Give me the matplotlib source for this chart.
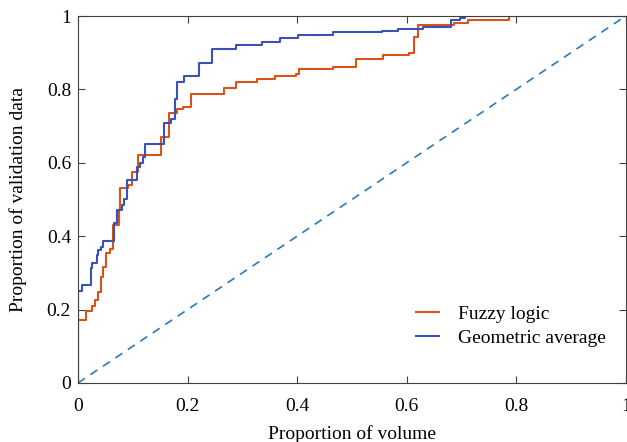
import matplotlib.pyplot as plt
import numpy as np

# step curves: (proportion of volume, proportion of validation data)
geo_x = [0, 0.0067, 0.023, 0.026, 0.034, 0.037, 0.0415, 0.0457, 0.066, 0.072, 0.080, 0.084,
         0.090, 0.107, 0.113, 0.118, 0.1225, 0.157, 0.169, 0.177, 0.1815, 0.194, 0.221,
         0.2455, 0.289, 0.336, 0.369, 0.401, 0.465, 0.5545, 0.584, 0.629, 0.681, 0.698,
         0.706, 1.0]
geo_y = [0.251, 0.267, 0.312, 0.328, 0.349, 0.362, 0.371, 0.388, 0.437, 0.471, 0.485, 0.500,
         0.553, 0.589, 0.599, 0.617, 0.651, 0.708, 0.718, 0.773, 0.821, 0.837, 0.873,
         0.909, 0.921, 0.930, 0.939, 0.948, 0.956, 0.960, 0.965, 0.971, 0.989, 0.995,
         1.0, 1.0]

fuzzy_x = [0, 0.015, 0.026, 0.031, 0.037, 0.0426, 0.046, 0.0506, 0.058, 0.063, 0.075, 0.077,
           0.092, 0.099, 0.110, 0.151, 0.166, 0.181, 0.191, 0.206, 0.267, 0.288, 0.326,
           0.360, 0.398, 0.404, 0.465, 0.508, 0.5576, 0.604, 0.614, 0.620, 0.687, 0.712,
           0.787]
fuzzy_y = [0.172, 0.197, 0.210, 0.226, 0.249, 0.290, 0.317, 0.353, 0.364, 0.4305, 0.471, 0.532,
           0.5395, 0.576, 0.621, 0.671, 0.735, 0.746, 0.753, 0.787, 0.803, 0.821, 0.8275,
           0.8365, 0.842, 0.8556, 0.862, 0.882, 0.894, 0.898, 0.942, 0.9755, 0.982, 0.989,
           1.0]

ticks = [0, 0.2, 0.4, 0.6, 0.8, 1]
tick_labels = ["0", "0.2", "0.4", "0.6", "0.8", "1"]

plt.rcParams['font.family'] = ['Liberation Serif', 'DejaVu Serif']
fs = 14

fig = plt.figure(figsize=(6.27, 4.42), dpi=100)
ax = fig.add_axes([0.1244, 0.1335, 0.8736, 0.8303])

ax.plot([0, 1], [0, 1], '--', color='#2a7ab9', linewidth=1.2, dashes=(5, 4))
ax.plot([0, 0], [0, fuzzy_y[0]], color='#d95319', linewidth=1.5)
l1, = ax.plot(fuzzy_x, fuzzy_y, drawstyle='steps-post', color='#d95319', linewidth=1.5,
              label='Fuzzy logic')
ax.plot([0, 0], [0, geo_y[0]], color='#3a52b8', linewidth=1.5)
l2, = ax.plot(geo_x, geo_y, drawstyle='steps-post', color='#3a52b8', linewidth=1.5,
              label='Geometric average')

ax.set_xlim(0, 1)
ax.set_ylim(0, 1)
ax.set_xticks(ticks)
ax.set_xticklabels(tick_labels)
ax.set_yticks(ticks)
ax.set_yticklabels(tick_labels)
ax.tick_params(direction='in', top=True, right=True, length=5, width=0.8,
               color='#404040', labelsize=fs)
ax.tick_params(axis='x', pad=11)
ax.tick_params(axis='y', pad=5)
for s in ax.spines.values():
    s.set_color('#404040')
    s.set_linewidth(0.8)

ax.set_xlabel('Proportion of volume', fontsize=fs, labelpad=7)
ax.set_ylabel('Proportion of validation data', fontsize=fs, labelpad=14)

ax.legend(handles=[l1, l2], loc='lower right', frameon=False, fontsize=fs,
          handlelength=1.2, handletextpad=0.95, labelspacing=0.35,
          bbox_to_anchor=(0.995, 0.05))

plt.savefig('out.png', dpi=100)
